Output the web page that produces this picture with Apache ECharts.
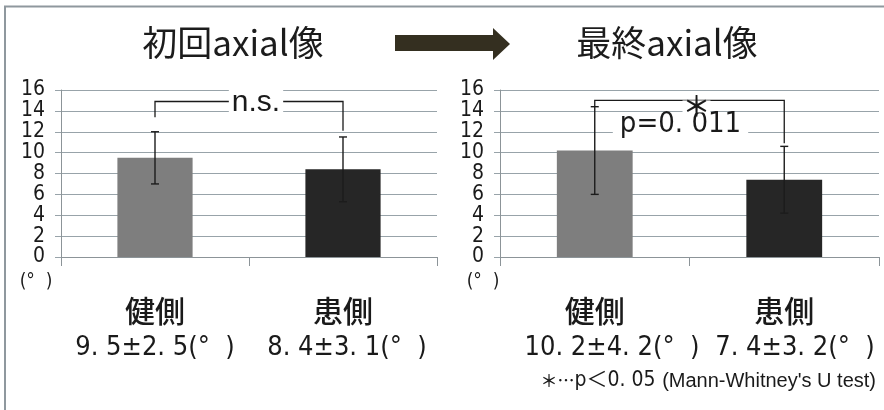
<!DOCTYPE html>
<html>
<head>
<meta charset="utf-8">
<style>
  html, body { margin: 0; padding: 0; background: #fff; }
  #chart { width: 884px; height: 410px; }
</style>
<script src="https://cdn.jsdelivr.net/npm/echarts@6/dist/echarts.min.js"></script>
</head>
<body>
<div id="chart"></div>
<script>
// Categories and mean ± SD (degrees) for the first and final axial images
const categories = ['健側', '患側'];
const firstMeans = [9.5, 8.4];
const firstSDs = [2.5, 3.1];
const finalMeans = [10.2, 7.4];
const finalSDs = [4.2, 3.2];
const barColors = ['#7e7e7e', '#262626'];

// Value axis range and step
const yMin = 0, yMax = 16, yStep = 2;

// Significance brackets: [left arm end, bracket height, right arm end]
const firstBracket = [13.4, 14.9, 12.1];
const finalBracket = [14.4, 15.0, 10.9];
const firstMark = 'n.s.';
const finalMark = '＊';
const finalP = 'p=0. 011';

const NARROW = '"Liberation Sans Narrow", "DejaVu Sans Condensed", "Noto Sans CJK JP", sans-serif';
const CJK = '"Noto Sans CJK JP", sans-serif';
const GRID_COLOR = '#98a3a9';

const fmt = v => v.toFixed(1).replace('.', '. ');
const summary = (m, s) => fmt(m) + '±' + fmt(s) + '(°  )';

function makeAxes(idx) {
  return {
    x: {
      type: 'category', gridIndex: idx, data: categories,
      axisLine: { lineStyle: { color: '#8c9498', width: 1 } },
      axisTick: { show: true, length: 9, lineStyle: { color: '#8c9498' } },
      axisLabel: { show: true, margin: 39, color: '#1a1a1a', fontFamily: CJK, fontWeight: 500, fontSize: 30 },
      splitLine: { show: false }
    },
    y: {
      type: 'value', gridIndex: idx, min: yMin, max: yMax, interval: yStep,
      axisLine: { show: true, lineStyle: { color: '#8c9498' } },
      axisTick: { show: true, inside: false, length: 6, lineStyle: { color: GRID_COLOR } },
      axisLabel: { margin: 16, color: '#1a1a1a', fontFamily: NARROW, fontSize: 21 },
      splitLine: { show: true, lineStyle: { color: GRID_COLOR, width: 1 } }
    }
  };
}

function barSeries(idx, means) {
  return {
    type: 'bar', xAxisIndex: idx, yAxisIndex: idx, barWidth: '40%',
    data: means.map((v, i) => ({ value: v, itemStyle: { color: barColors[i] } })),
    silent: true, animation: false, z: 2
  };
}

function errorSeries(idx, means, sds) {
  return {
    type: 'custom', xAxisIndex: idx, yAxisIndex: idx, z: 3, silent: true, animation: false,
    data: means.map((m, i) => [i, m, sds[i]]),
    renderItem: function (params, api) {
      const x = api.value(0), m = api.value(1), s = api.value(2);
      const hi = api.coord([x, m + s]);
      const lo = api.coord([x, m - s]);
      const cap = 4;
      const st = { stroke: '#1c1c1c', lineWidth: 1.4 };
      return {
        type: 'group',
        children: [
          { type: 'line', shape: { x1: hi[0], y1: hi[1], x2: lo[0], y2: lo[1] }, style: st },
          { type: 'line', shape: { x1: hi[0] - cap, y1: hi[1], x2: hi[0] + cap, y2: hi[1] }, style: st },
          { type: 'line', shape: { x1: lo[0] - cap, y1: lo[1], x2: lo[0] + cap, y2: lo[1] }, style: st }
        ]
      };
    }
  };
}

function textEl(x, y, o) {
  return { type: 'text', x: x, y: y,
    style: { text: o.text, font: o.font, fill: '#1a1a1a', align: 'center', verticalAlign: 'middle',
             lineHeight: o.lh, backgroundColor: '#fff', padding: o.pad } };
}

function bracketSeries(idx, br, markOpts, extra) {
  return {
    type: 'custom', xAxisIndex: idx, yAxisIndex: idx, z: 4, silent: true, animation: false,
    data: [br],
    renderItem: function (params, api) {
      const l = api.coord([0, api.value(0)]);
      const tl = api.coord([0, api.value(1)]);
      const tr = api.coord([1, api.value(1)]);
      const r = api.coord([1, api.value(2)]);
      const midX = (tl[0] + tr[0]) / 2, midY = tl[1];
      const children = [
        { type: 'polyline', shape: { points: [l, tl, tr, r] }, style: { stroke: '#1a1a1a', lineWidth: 1.3, fill: null } }
      ];
      if (extra) children.push(textEl(midX + extra.dx, midY + extra.dy, extra));
      children.push(textEl(midX + markOpts.dx, midY + markOpts.dy, markOpts));
      return { type: 'group', children: children };
    }
  };
}

const a0 = makeAxes(0), a1 = makeAxes(1);

const option = {
  animation: false,
  backgroundColor: '#fff',
  grid: [
    { left: 61, right: 447, top: 90, bottom: 153, containLabel: false },
    { left: 500, right: 5, top: 90, bottom: 153, containLabel: false }
  ],
  xAxis: [a0.x, a1.x],
  yAxis: [a0.y, a1.y],
  series: [
    barSeries(0, firstMeans),
    errorSeries(0, firstMeans, firstSDs),
    bracketSeries(0, firstBracket, { text: firstMark, dx: 7, dy: 1, font: '30px "Liberation Sans", Arial, sans-serif', lh: 30, pad: [0, 3] }),
    barSeries(1, finalMeans),
    errorSeries(1, finalMeans, finalSDs),
    bracketSeries(1, finalBracket, { text: finalMark, dx: 7, dy: 6, font: '500 28px ' + CJK, lh: 12, pad: [0, 0] },
      { text: finalP, dx: -9, dy: 24, font: '29px ' + NARROW, lh: 22, pad: [0, 7] })
  ],
  graphic: [
    { type: 'polyline', shape: { points: [[5, 410], [5, 6.5], [884, 6.5]] }, style: { stroke: '#8f989e', lineWidth: 2, fill: null } },
    { type: 'text', x: 233, y: 43, style: { text: '初回axial像', font: '35px ' + CJK, fill: '#1c1c1c', align: 'center', verticalAlign: 'middle' } },
    { type: 'text', x: 667, y: 43, style: { text: '最終axial像', font: '35px ' + CJK, fill: '#1c1c1c', align: 'center', verticalAlign: 'middle' } },
    { type: 'polygon', shape: { points: [[395, 35], [493, 35], [493, 28], [510, 44], [493, 60], [493, 51], [395, 51]] }, style: { fill: '#342f20' } },
    { type: 'text', x: 36, y: 282, style: { text: '(°  )', font: '19px ' + NARROW, fill: '#1a1a1a', align: 'center', verticalAlign: 'middle' } },
    { type: 'text', x: 483, y: 282, style: { text: '(°  )', font: '19px ' + NARROW, fill: '#1a1a1a', align: 'center', verticalAlign: 'middle' } },
    { type: 'text', x: 155, y: 348, style: { text: summary(firstMeans[0], firstSDs[0]), font: '27px ' + NARROW, fill: '#1a1a1a', align: 'center', verticalAlign: 'middle' } },
    { type: 'text', x: 347, y: 348, style: { text: summary(firstMeans[1], firstSDs[1]), font: '27px ' + NARROW, fill: '#1a1a1a', align: 'center', verticalAlign: 'middle' } },
    { type: 'text', x: 612, y: 348, style: { text: summary(finalMeans[0], finalSDs[0]), font: '27px ' + NARROW, fill: '#1a1a1a', align: 'center', verticalAlign: 'middle' } },
    { type: 'text', x: 795, y: 348, style: { text: summary(finalMeans[1], finalSDs[1]), font: '27px ' + NARROW, fill: '#1a1a1a', align: 'center', verticalAlign: 'middle' } },
    { type: 'text', x: 876, y: 381, style: {
        text: '{c|＊…}{a|p＜0. 05}  {b|(Mann-Whitney\'s U test)}',
        align: 'right', verticalAlign: 'middle',
        rich: {
          c: { font: '500 17px ' + CJK, fill: '#1a1a1a' },
          a: { font: '21px ' + NARROW, fill: '#1a1a1a' },
          b: { font: '20px "Liberation Sans", Arial, sans-serif', fill: '#1a1a1a' }
        }
      } }
  ]
};

const chart = echarts.init(document.getElementById('chart'), null, { renderer: 'canvas' });
chart.setOption(option);
</script>
</body>
</html>
